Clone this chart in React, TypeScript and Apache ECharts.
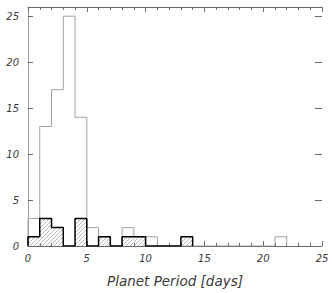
import React, { useEffect, useRef } from 'react';
import * as echarts from 'echarts';

// Histogram bins: 1-day wide, starting at these periods (days)
const binStarts = [0, 1, 2, 3, 4, 5, 6, 7, 8, 9, 10, 11, 12, 13, 14, 15, 16, 17, 18, 19, 20, 21, 22, 23, 24];
// All planets (thin grey outline)
const allCounts = [3, 13, 17, 25, 14, 2, 1, 0, 2, 1, 1, 0, 0, 0, 0, 0, 0, 0, 0, 0, 0, 1, 0, 0, 0];
// Subsample (thick black outline, hatched)
const subCounts = [1, 3, 2, 0, 3, 0, 1, 0, 1, 1, 0, 0, 0, 1, 0, 0, 0, 0, 0, 0, 0, 0, 0, 0, 0];
const xTicks = [0, 5, 10, 15, 20, 25];
const yTicks = [0, 5, 10, 15, 20, 25];
const xTitle = 'Planet Period [days]';

function stepPoints(starts: number[], counts: number[]): number[][] {
  let last = -1;
  counts.forEach((c, i) => { if (c > 0) last = i; });
  const pts: number[][] = [[starts[0], 0]];
  for (let i = 0; i <= last; i++) {
    const w = i + 1 < starts.length ? starts[i + 1] - starts[i] : 1;
    pts.push([starts[i], counts[i]]);
    pts.push([starts[i] + w, counts[i]]);
  }
  const end = last + 1 < starts.length ? starts[last + 1] : starts[last] + 1;
  pts.push([end, 0]);
  return pts;
}

function hatchUrl(): string {
  const c = document.createElement('canvas');
  c.width = 4; c.height = 4;
  const ctx = c.getContext('2d')!;
  ctx.strokeStyle = '#9c9c9c';
  ctx.lineWidth = 0.7;
  ctx.beginPath();
  ctx.moveTo(0, 4); ctx.lineTo(4, 0);
  ctx.moveTo(-1, 1); ctx.lineTo(1, -1);
  ctx.moveTo(3, 5); ctx.lineTo(5, 3);
  ctx.stroke();
  return c.toDataURL();
}

export default function App() {
  const ref = useRef<HTMLDivElement>(null);
  useEffect(() => {
    if (!ref.current) return;
    const chart = echarts.init(ref.current, null, { renderer: 'svg' });
    const font = 'DejaVu Sans';
    const axisColor = '#6a6a6a';
    const fmt = (v: number) => (yTicks.includes(v) ? String(v) : '');
    const fmtX = (v: number) => (xTicks.includes(v) ? String(v) : '');
    chart.setOption({
      animation: false,
      grid: { left: 28, right: 10, top: 7, bottom: 46 },
      xAxis: [
        {
          type: 'value', min: 0, max: 25, interval: 5, position: 'bottom',
          axisLine: { show: true, onZero: false, lineStyle: { color: axisColor, width: 1 } },
          axisTick: { show: true, inside: true, length: 5, lineStyle: { color: axisColor } },
          minorTick: { show: true, splitNumber: 5, length: 3, lineStyle: { color: axisColor } },
          splitLine: { show: false },
          axisLabel: { formatter: fmtX, margin: 7, color: '#3a3a3a', fontFamily: font, fontStyle: 'italic', fontSize: 10 },
          name: xTitle, nameLocation: 'middle', nameGap: 28,
          nameTextStyle: { color: '#3a3a3a', fontFamily: font, fontStyle: 'italic', fontSize: 13.5 },
        },
        {
          type: 'value', min: 0, max: 25, interval: 5, position: 'top',
          axisLine: { show: true, onZero: false, lineStyle: { color: axisColor, width: 1 } },
          axisTick: { show: true, inside: true, length: 5, lineStyle: { color: axisColor } },
          minorTick: { show: true, splitNumber: 5, length: 3, lineStyle: { color: axisColor } },
          splitLine: { show: false },
          axisLabel: { show: false },
        },
      ],
      yAxis: [
        {
          type: 'value', min: 0, max: 26, interval: 5, position: 'left',
          axisLine: { show: true, onZero: false, lineStyle: { color: '#9a9a9a', width: 1 } },
          axisTick: { show: true, inside: true, length: 5, lineStyle: { color: axisColor } },
          splitLine: { show: false },
          axisLabel: { formatter: fmt, margin: 9, color: '#3a3a3a', fontFamily: font, fontStyle: 'italic', fontSize: 10 },
        },
        {
          type: 'value', min: 0, max: 26, interval: 5, position: 'right',
          axisLine: { show: false, onZero: false },
          axisTick: { show: true, inside: true, length: 7, lineStyle: { color: axisColor } },
          splitLine: { show: false },
          axisLabel: { show: false },
        },
      ],
      series: [
        {
          type: 'line', xAxisIndex: 0, yAxisIndex: 0,
          data: stepPoints(binStarts, allCounts),
          showSymbol: false, symbol: 'none',
          lineStyle: { color: '#a0a0a0', width: 1 },
          z: 2,
        },
        {
          type: 'line', xAxisIndex: 0, yAxisIndex: 0,
          data: stepPoints(binStarts, subCounts),
          showSymbol: false, symbol: 'none',
          lineStyle: { color: '#000', width: 1.5 },
          areaStyle: {
            color: { image: hatchUrl(), repeat: 'repeat', imageWidth: 4, imageHeight: 4 } as any,
            opacity: 1,
          },
          z: 3,
        },
      ],
    });
    return () => chart.dispose();
  }, []);
  return <div ref={ref} style={{ position: 'absolute', left: 0, top: 0, width: 332, height: 293 }} />;
}
